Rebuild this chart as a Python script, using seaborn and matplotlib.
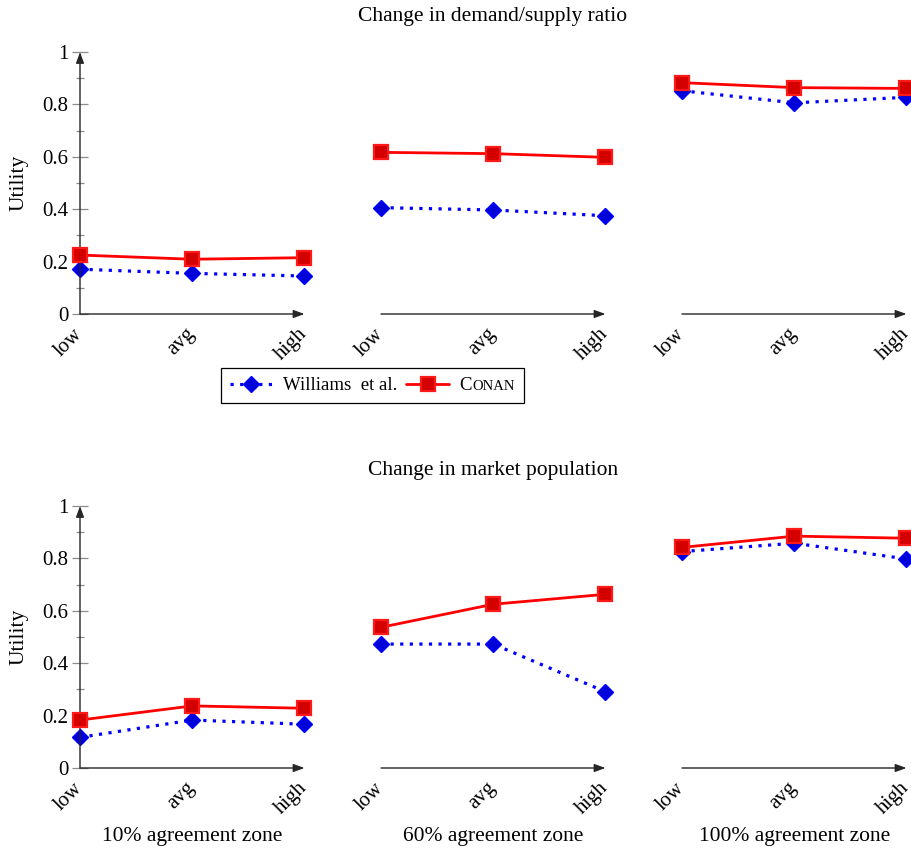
import matplotlib
matplotlib.use("Agg")
import matplotlib.pyplot as plt
from matplotlib.offsetbox import HPacker, TextArea
import numpy as np
import pandas as pd
import seaborn as sns

# --- data -------------------------------------------------------------
levels = ["low", "avg", "high"]
zones = ["10% agreement zone", "60% agreement zone", "100% agreement zone"]
row_titles = ["Change in demand/supply ratio", "Change in market population"]

# demand/supply ratio (one list per agreement zone)
ds_williams = [[0.171, 0.155, 0.145], [0.406, 0.397, 0.375], [0.852, 0.806, 0.827]]
ds_conan = [[0.225, 0.209, 0.215], [0.617, 0.612, 0.598], [0.883, 0.864, 0.861]]

# market population (one list per agreement zone)
mp_williams = [[0.117, 0.183, 0.167], [0.473, 0.473, 0.291], [0.826, 0.858, 0.798]]
mp_conan = [[0.183, 0.237, 0.228], [0.537, 0.625, 0.663], [0.842, 0.885, 0.877]]

yticks = [0, 0.2, 0.4, 0.6, 0.8, 1]
ytick_labels = ["0", "0.2", "0.4", "0.6", "0.8", "1"]

# --- style ------------------------------------------------------------
sns.set_theme(style="white")
plt.rcParams["font.family"] = ["Liberation Serif", "DejaVu Serif"]
plt.rcParams["text.color"] = "black"
plt.rcParams["axes.labelcolor"] = "black"
FS = 15.5        # titles and axis labels
TICK_FS = 15     # tick labels
LEG_FS = 13.5    # legend entries
AX_COLOR = "#262626"
TICK_COLOR = "#8c8c8c"

W, H = 912, 852
fig = plt.figure(figsize=(W / 100, H / 100), dpi=100)

lefts = [80 / W, 381 / W, 682 / W]
width = 224.5 / W
bottoms = [1 - 314 / H, 1 - 768 / H]
height = 262 / H

blue_kw = dict(color="#0000ff", marker="D", markersize=8.5, markerfacecolor="#0000d8",
               markeredgecolor="#0000ff", markeredgewidth=1.0,
               linestyle=(0, (1.0, 2.0)), linewidth=2.3, dash_capstyle="butt")
red_kw = dict(color="#ff0000", marker="s", markersize=10.5, markerfacecolor="#d40000",
              markeredgecolor="#ff1a1a", markeredgewidth=1.6,
              linestyle="-", linewidth=2.0)

series = [(ds_williams, ds_conan), (mp_williams, mp_conan)]
legend_handles = None

for r in range(2):
    will, con = series[r]
    for c in range(3):
        ax = fig.add_axes([lefts[c], bottoms[r], width, height])
        df = pd.DataFrame({
            "level": levels * 2,
            "utility": list(will[c]) + list(con[c]),
            "method": ["Williams  et al."] * 3 + ["CONAN"] * 3,
        })
        sns.lineplot(data=df[df.method == "Williams  et al."], x="level", y="utility",
                     sort=False, ax=ax, clip_on=False, zorder=3, **blue_kw)
        sns.lineplot(data=df[df.method == "CONAN"], x="level", y="utility",
                     sort=False, ax=ax, clip_on=False, zorder=4, **red_kw)
        if legend_handles is None:
            legend_handles = ax.get_lines()[:2]

        ax.set_xlim(0, 2)
        ax.set_ylim(0, 1)
        ax.set_xlabel("")
        ax.set_ylabel("")
        for s in ax.spines.values():
            s.set_visible(False)

        # axis lines with arrow heads
        arrow = dict(arrowstyle="-|>,head_length=0.55,head_width=0.2", color=AX_COLOR,
                     lw=1.0, shrinkA=0, shrinkB=0)
        ax.annotate("", xy=(1.0, 0), xytext=(0, 0), xycoords="axes fraction",
                    arrowprops=arrow, annotation_clip=False)

        ax.set_xticks(range(len(levels)))
        ax.set_xticklabels(levels, rotation=45, ha="right", va="center",
                           rotation_mode="anchor", fontsize=TICK_FS)
        ax.tick_params(axis="x", direction="inout", length=11, width=0.9,
                       color=TICK_COLOR, pad=7, labelcolor="black")

        if c == 0:
            ax.annotate("", xy=(0, 1.0), xytext=(0, 0), xycoords="axes fraction",
                        arrowprops=arrow, annotation_clip=False)
            ax.set_yticks(yticks)
            ax.set_yticklabels(ytick_labels, fontsize=TICK_FS)
            ax.set_yticks(np.arange(0.1, 1.0, 0.2), minor=True)
            ax.tick_params(axis="y", which="major", direction="inout", length=11,
                           width=0.9, color=TICK_COLOR, pad=3, labelcolor="black", left=True)
            ax.tick_params(axis="y", which="minor", direction="inout", length=6,
                           width=0.9, color=TICK_COLOR, left=True)
            ax.set_ylabel("Utility", fontsize=FS, labelpad=10)
        else:
            ax.set_yticks([])

        if r == 1:
            fig.text(lefts[c] + width / 2, 1 - 836 / H, zones[c], ha="center",
                     va="center", fontsize=FS)

    fig.text(493 / W, 1 - (17 if r == 0 else 470) / H, row_titles[r], ha="center",
             va="center", fontsize=FS)

# legend between the two rows
leg = fig.legend(legend_handles, ["Williams  et al.", "C"],
                 loc="center", bbox_to_anchor=(372.5 / W, 1 - 385.5 / H), ncol=2,
                 fontsize=LEG_FS, frameon=True, fancybox=False, edgecolor="black",
                 framealpha=1.0, handlelength=2.3, handletextpad=0.53,
                 columnspacing=0.48, borderpad=0.5, borderaxespad=0)
leg.get_frame().set_linewidth(0.9)

# set CONAN in small capitals: "C" at full size followed by a smaller "ONAN"
for column in leg._legend_handle_box.get_children():
    for item in column.get_children():
        parts = item.get_children()
        label = parts[1]
        if isinstance(label, TextArea) and label.get_text() == "C":
            tail = TextArea("ONAN", textprops=dict(fontsize=LEG_FS * 0.78, color="black"))
            smallcaps = HPacker(children=[label, tail], pad=0, sep=0.5, align="baseline")
            smallcaps.set_figure(fig)
            parts[1] = smallcaps

fig.savefig("out.png", dpi=100)
